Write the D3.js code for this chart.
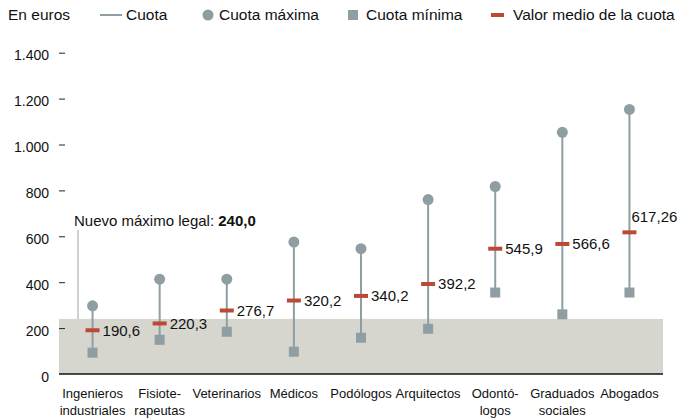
<!DOCTYPE html>
<html>
<head>
<meta charset="utf-8">
<script src="https://cdn.jsdelivr.net/npm/d3@7"></script>
<style>
  body { margin: 0; background: #fff; }
  text { font-family: "Liberation Sans", Arial, sans-serif; fill: #111; }
</style>
</head>
<body>
<script>
const categories = ["Ingenieros industriales", "Fisiote- rapeutas", "Veterinarios", "Médicos", "Podólogos", "Arquitectos", "Odontó- logos", "Graduados sociales", "Abogados"];
const labelLines = [["Ingenieros", "industriales"], ["Fisiote-", "rapeutas"], ["Veterinarios"], ["Médicos"], ["Podólogos"], ["Arquitectos"], ["Odontó-", "logos"], ["Graduados", "sociales"], ["Abogados"]];
const maxValues = [297, 413, 413, 575, 546, 760, 817, 1053, 1153];
const minValues = [93, 149, 184, 97, 158, 197, 355, 260, 355];
const meanValues = [190.6, 220.3, 276.7, 320.2, 340.2, 392.2, 545.9, 566.6, 617.26];
const meanLabels = ["190,6", "220,3", "276,7", "320,2", "340,2", "392,2", "545,9", "566,6", "617,26"];
const yTicks = [0, 200, 400, 600, 800, 1000, 1200, 1400];
const legalMax = 240;

const width = 679;
const height = 420;
const grey = "#8e9ea2";
const red = "#bb4a35";

const svg = d3.select("body")
  .append("svg")
  .attr("width", width)
  .attr("height", height);

const x = d3.scaleBand()
  .domain(categories)
  .range([59, 663])
  .padding(0);

const y = d3.scaleLinear()
  .domain([0, 1400])
  .range([374, 52.7]);

const cx = (i) => x(categories[i]) + x.bandwidth() / 2;

// shaded area below the legal max
svg.append("rect")
  .attr("x", x.range()[0])
  .attr("y", y(legalMax))
  .attr("width", x.range()[1] - x.range()[0])
  .attr("height", y(0) - y(legalMax))
  .attr("fill", "#d6d6cf");

// annotation
svg.append("line")
  .attr("x1", 78).attr("x2", 78)
  .attr("y1", y(legalMax)).attr("y2", 230)
  .attr("stroke", "#d0d0ca")
  .attr("stroke-width", 2);

const note = svg.append("text")
  .attr("x", 74)
  .attr("y", 226)
  .style("font-size", "15px");
note.append("tspan").text("Nuevo máximo legal: ");
note.append("tspan").style("font-weight", "bold").text("240,0");

// y axis
const yAxis = d3.axisLeft(y)
  .tickValues(yTicks)
  .tickSize(6)
  .tickPadding(10)
  .tickFormat((d) => d3.format(",")(d).replace(/,/g, "."));

const gy = svg.append("g")
  .attr("transform", "translate(65,0)")
  .call(yAxis);
gy.select(".domain").remove();
gy.selectAll("line").attr("stroke", "#222");
gy.selectAll(".tick").filter((d) => d === 0).select("line").remove();
gy.selectAll("text")
  .attr("dy", "0.5em")
  .style("font-size", "14px")
  .style("font-family", "'Liberation Sans', Arial, sans-serif")
  .attr("fill", "#111");

// baseline
svg.append("line")
  .attr("x1", x.range()[0]).attr("x2", x.range()[1])
  .attr("y1", y(0)).attr("y2", y(0))
  .attr("stroke", "#111")
  .attr("stroke-width", 1.5);

// x labels
const xl = svg.append("g")
  .selectAll("text")
  .data(categories)
  .join("text")
  .attr("x", (d, i) => cx(i))
  .attr("y", 398)
  .attr("text-anchor", "middle")
  .style("font-size", "13px");
xl.each(function(d, i) {
  d3.select(this).selectAll("tspan")
    .data(labelLines[i])
    .join("tspan")
    .attr("x", cx(i))
    .attr("dy", (t, j) => j === 0 ? 0 : 17)
    .text((t) => t);
});

// range lines
const g = svg.append("g");
g.selectAll(".range")
  .data(categories)
  .join("line")
  .attr("x1", (d, i) => cx(i))
  .attr("x2", (d, i) => cx(i))
  .attr("y1", (d, i) => y(maxValues[i]))
  .attr("y2", (d, i) => y(minValues[i]))
  .attr("stroke", grey)
  .attr("stroke-width", 2);

g.selectAll(".max")
  .data(categories)
  .join("circle")
  .attr("cx", (d, i) => cx(i))
  .attr("cy", (d, i) => y(maxValues[i]))
  .attr("r", 5.5)
  .attr("fill", grey);

g.selectAll(".min")
  .data(categories)
  .join("rect")
  .attr("x", (d, i) => cx(i) - 5)
  .attr("y", (d, i) => y(minValues[i]) - 5)
  .attr("width", 10)
  .attr("height", 10)
  .attr("fill", grey);

g.selectAll(".mean")
  .data(categories)
  .join("rect")
  .attr("x", (d, i) => cx(i) - 7)
  .attr("y", (d, i) => y(meanValues[i]) - 2)
  .attr("width", 14)
  .attr("height", 4)
  .attr("fill", red);

g.selectAll(".meanLabel")
  .data(categories)
  .join("text")
  .attr("x", (d, i) => cx(i) + (i === 8 ? 2 : 10))
  .attr("y", (d, i) => y(meanValues[i]) + (i === 8 ? -16 : 0))
  .attr("dy", "0.35em")
  .style("font-size", "15px")
  .text((d, i) => meanLabels[i]);

// legend
const legend = svg.append("g").style("font-size", "15.5px");
legend.append("text").attr("x", 8).attr("y", 20).text("En euros");
legend.append("line")
  .attr("x1", 100).attr("x2", 122).attr("y1", 15).attr("y2", 15)
  .attr("stroke", grey).attr("stroke-width", 2);
legend.append("text").attr("x", 126).attr("y", 20).text("Cuota");
legend.append("circle").attr("cx", 208).attr("cy", 15).attr("r", 5.5).attr("fill", grey);
legend.append("text").attr("x", 219).attr("y", 20).text("Cuota máxima");
legend.append("rect").attr("x", 348).attr("y", 10).attr("width", 10).attr("height", 10).attr("fill", grey);
legend.append("text").attr("x", 366).attr("y", 20).text("Cuota mínima");
legend.append("rect").attr("x", 491).attr("y", 13).attr("width", 13).attr("height", 4).attr("fill", red);
legend.append("text").attr("x", 513).attr("y", 20).text("Valor medio de la cuota");
</script>
</body>
</html>
